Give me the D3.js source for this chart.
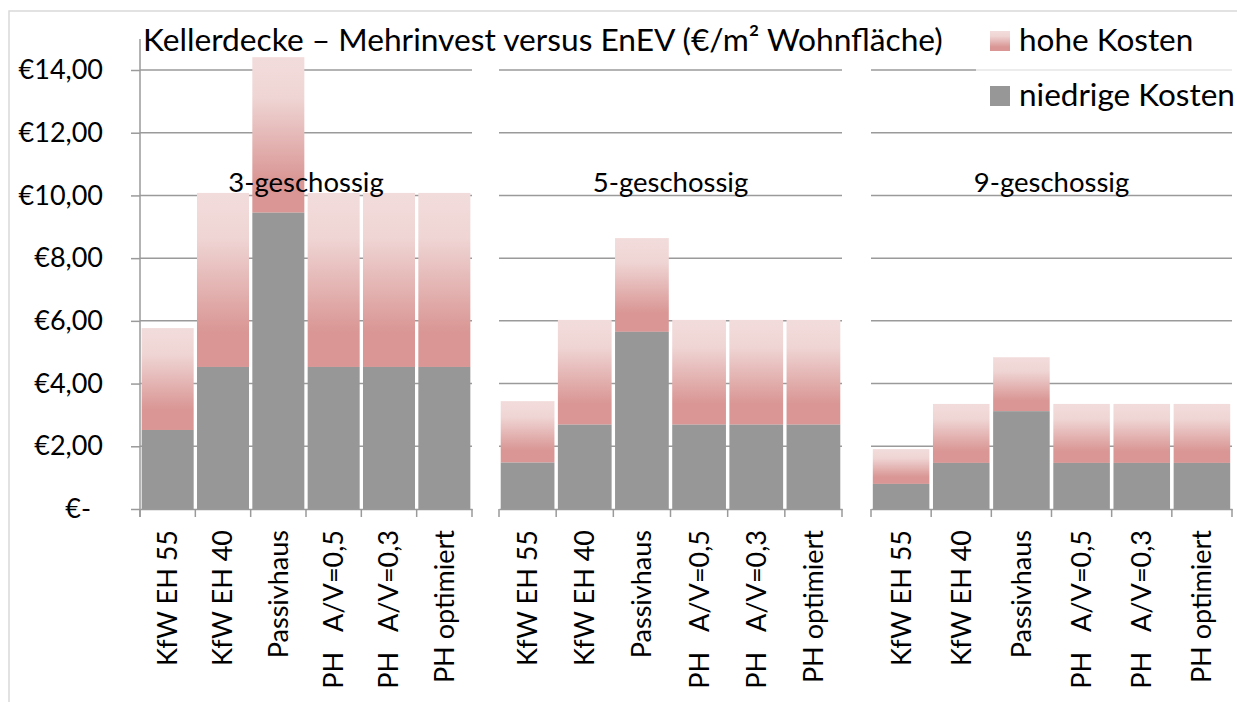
<!DOCTYPE html>
<html>
<head>
<meta charset="utf-8">
<script src="https://cdn.jsdelivr.net/npm/d3@7"></script>
<style>
  body { margin: 0; background: #fff; }
  svg text { font-family: Lato, "Open Sans", sans-serif; fill: #000; }
</style>
</head>
<body>
<script>
// data
var categories = ["KfW EH 55", "KfW EH 40", "Passivhaus", "PH   A/V=0,5", "PH   A/V=0,3", "PH optimiert"];
var groups = ["3-geschossig", "5-geschossig", "9-geschossig"];
// niedrige Kosten (lower estimate) per group
var lowCost = [
  [2.52, 4.53, 9.45, 4.53, 4.53, 4.53],
  [1.48, 2.69, 5.65, 2.69, 2.69, 2.69],
  [0.80, 1.47, 3.12, 1.47, 1.47, 1.47]
];
// hohe Kosten (upper estimate, top of the bar)
var highCost = [
  [5.77, 10.08, 14.41, 10.08, 10.08, 10.08],
  [3.44, 6.03, 8.64, 6.03, 6.03, 6.03],
  [1.91, 3.35, 4.84, 3.35, 3.35, 3.35]
];
var yTicks = [0, 2, 4, 6, 8, 10, 12, 14];
var title = "Kellerdecke \u2013 Mehrinvest versus EnEV (\u20ac/m\u00b2 Wohnfl\u00e4che)";
var legendLabels = ["hohe Kosten", "niedrige Kosten"];

var w = 1237, h = 702;
var panels = [[140, 472], [499, 842], [871, 1232]];
var gray = "#979797";

var svg = d3.select("body").append("svg")
  .attr("width", w)
  .attr("height", h);

var defs = svg.append("defs");
var grad = defs.append("linearGradient")
  .attr("id", "pink")
  .attr("x1", 0).attr("y1", 0).attr("x2", 0).attr("y2", 1);
grad.append("stop").attr("offset", "0%").attr("stop-color", "#f2dcdb");
grad.append("stop").attr("offset", "25%").attr("stop-color", "#efd6d5");
grad.append("stop").attr("offset", "80%").attr("stop-color", "#d99694");
grad.append("stop").attr("offset", "100%").attr("stop-color", "#d99694");

// outer frame
svg.append("path")
  .attr("d", "M9,702 V11 H1237")
  .attr("fill", "none")
  .attr("stroke", "#d9d9d9")
  .attr("stroke-width", 1.5);

var y = d3.scaleLinear().domain([0, 14]).range([509, 70]);

panels.forEach(function(p, gi) {
  var x = d3.scaleBand()
    .domain(categories)
    .range(p)
    .paddingInner(0.06)
    .paddingOuter(0.03);

  var g = svg.append("g");

  // gridlines
  g.selectAll("line.grid")
    .data(yTicks.slice(1))
    .enter()
    .append("line")
    .attr("x1", p[0]).attr("x2", p[1])
    .attr("y1", function(d) { return y(d); })
    .attr("y2", function(d) { return y(d); })
    .attr("stroke", "#9a9a9a")
    .attr("stroke-width", 1.5);

  var data = categories.map(function(c, i) {
    return { cat: c, low: lowCost[gi][i], high: highCost[gi][i] };
  });

  g.selectAll("rect.high")
    .data(data)
    .enter()
    .append("rect")
    .attr("x", function(d) { return x(d.cat); })
    .attr("y", function(d) { return y(d.high); })
    .attr("width", x.bandwidth())
    .attr("height", function(d) { return y(d.low) - y(d.high); })
    .attr("fill", "url(#pink)");

  g.selectAll("rect.low")
    .data(data)
    .enter()
    .append("rect")
    .attr("x", function(d) { return x(d.cat); })
    .attr("y", function(d) { return y(d.low); })
    .attr("width", x.bandwidth())
    .attr("height", function(d) { return y(0) - y(d.low); })
    .attr("fill", gray);

  // category axis
  var xAxis = d3.axisBottom(x).tickSize(0).tickPadding(0);
  var ax = g.append("g")
    .attr("transform", "translate(0," + y(0) + ")")
    .call(xAxis);
  ax.select(".domain").attr("stroke", "#9a9a9a").attr("stroke-width", 1.5);
  ax.selectAll(".tick text")
    .attr("transform", "rotate(-90)")
    .attr("x", -21)
    .attr("y", 0)
    .attr("dy", "0.35em")
    .attr("text-anchor", "end")
    .style("white-space", "pre")
    .attr("font-size", 27)
    .attr("font-family", "Lato, sans-serif");
  var bounds = [p[0]].concat(categories.map(function(c) { return x(c) + x.bandwidth() + x.step() * x.paddingInner() / 2; }));
  bounds[bounds.length - 1] = p[1];
  g.selectAll("line.ctick")
    .data(bounds)
    .enter()
    .append("line")
    .attr("x1", function(d) { return d; }).attr("x2", function(d) { return d; })
    .attr("y1", y(0)).attr("y2", y(0) + 8)
    .attr("stroke", "#9a9a9a")
    .attr("stroke-width", 1.5);

  g.append("text")
    .attr("x", (p[0] + p[1]) / 2)
    .attr("y", 192)
    .attr("text-anchor", "middle")
    .attr("font-size", 27.5)
    .text(groups[gi]);
});

// value axis on the first panel
var yAxis = d3.axisLeft(y)
  .tickValues(yTicks)
  .tickSize(9)
  .tickPadding(28)
  .tickFormat(function(d) { return d === 0 ? "\u20ac-" : "\u20ac" + d3.format(".2f")(d).replace(".", ","); });
var ya = svg.append("g")
  .attr("transform", "translate(140,0)")
  .call(yAxis);
ya.select(".domain").remove();
ya.selectAll(".tick line").attr("stroke", "#9a9a9a").attr("stroke-width", 1.5);
ya.selectAll(".tick text")
  .attr("font-size", 27)
  .attr("font-family", "Lato, sans-serif")
  .attr("dx", function(d) { return d === 0 ? -12 : 0; });
svg.append("line")
  .attr("x1", 140).attr("x2", 140)
  .attr("y1", 39).attr("y2", y(0) + 8)
  .attr("stroke", "#9a9a9a")
  .attr("stroke-width", 1.5);

// title
svg.append("text")
  .attr("x", 143)
  .attr("y", 51)
  .attr("font-size", 31.7)
  .text(title);

// legend
var legend = svg.append("g");
legend.append("rect")
  .attr("x", 976).attr("y", 14).attr("width", 261).attr("height", 105)
  .attr("fill", "#fff")
  .attr("fill-opacity", 0.75);
legend.selectAll("rect.key")
  .data(legendLabels)
  .enter()
  .append("rect")
  .attr("x", 990)
  .attr("y", function(d, i) { return 31 + i * 55; })
  .attr("width", 20).attr("height", 20)
  .attr("fill", function(d, i) { return i === 0 ? "url(#pink)" : gray; });
legend.selectAll("text")
  .data(legendLabels)
  .enter()
  .append("text")
  .attr("x", 1019)
  .attr("y", function(d, i) { return 51 + i * 55; })
  .attr("font-size", 31.5)
  .text(function(d) { return d; });
</script>
</body>
</html>
